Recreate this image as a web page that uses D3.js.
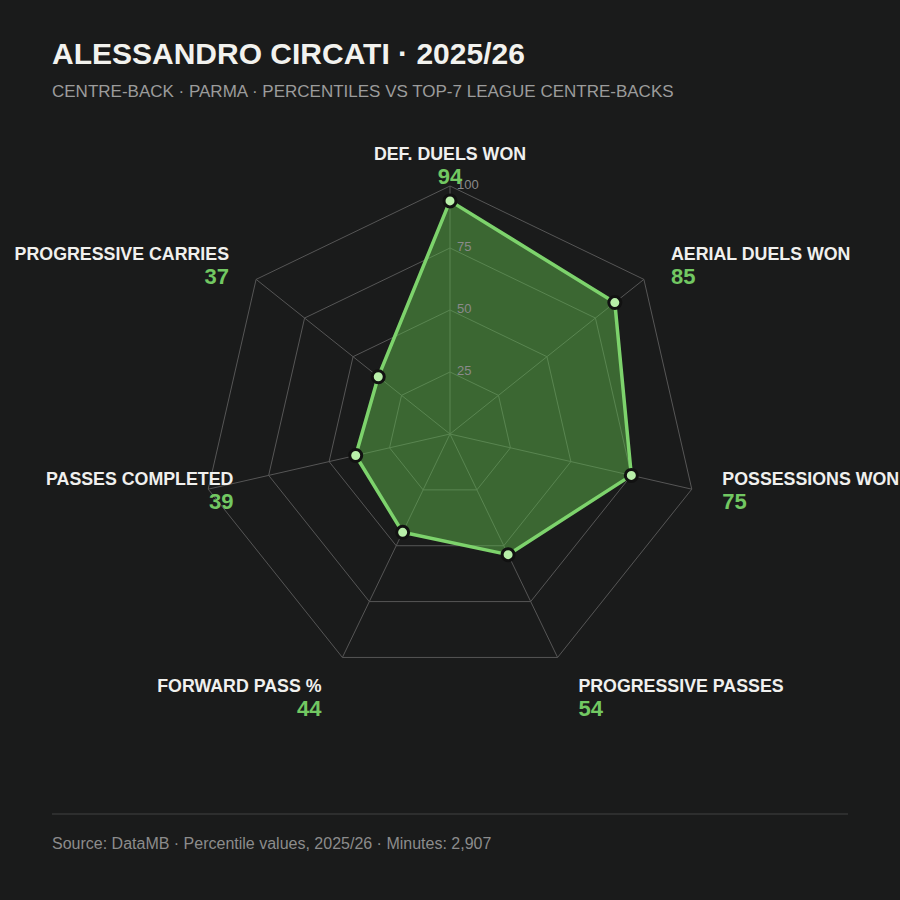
<!DOCTYPE html>
<html>
<head>
<meta charset="utf-8">
<script src="https://cdn.jsdelivr.net/npm/d3@7"></script>
<style>
  html, body { margin: 0; padding: 0; background: #1a1b1b; }
  svg { display: block; font-family: "Liberation Sans", Arial, Helvetica, sans-serif; }
</style>
</head>
<body>
<svg id="chart" width="900" height="900"></svg>
<script>
// ---- data ----
const metrics = ["DEF. DUELS WON", "AERIAL DUELS WON", "POSSESSIONS WON", "PROGRESSIVE PASSES",
                 "FORWARD PASS %", "PASSES COMPLETED", "PROGRESSIVE CARRIES"];
const percentiles = [94, 85, 75, 54, 44, 39, 37];
const ringTicks = [25, 50, 75, 100];
const titleText = "ALESSANDRO CIRCATI · 2025/26";
const subtitleText = "CENTRE-BACK · PARMA · PERCENTILES VS TOP-7 LEAGUE CENTRE-BACKS";
const footerText = "Source: DataMB · Percentile values, 2025/26 · Minutes: 2,907";

// ---- layout ----
const W = 900, H = 900;
const cx = 450, cy = 434, R = 248;
const bg = "#1a1b1b";
const gridColor = "#565656";
const green = "#7dd36c";
const numGreen = "#72c862";

const svg = d3.select("#chart");
svg.append("rect").attr("width", W).attr("height", H).attr("fill", bg);

const n = metrics.length;
const angle = d3.scaleLinear().domain([0, n]).range([0, 2 * Math.PI]);
const rScale = d3.scaleLinear().domain([0, 100]).range([0, R]);
const pt = (i, v) => [cx + rScale(v) * Math.sin(angle(i)), cy - rScale(v) * Math.cos(angle(i))];

// Title
svg.append("text").attr("x", 52).attr("y", 64).attr("fill", "#f2f2ee")
  .attr("font-size", 30).attr("font-weight", "bold").text(titleText);
svg.append("text").attr("x", 52).attr("y", 97).attr("fill", "#9c9c9c")
  .attr("font-size", 17).text(subtitleText);

// Grid
const g = svg.append("g");
const lineGen = d3.line();
ringTicks.forEach(t => {
  const pts = d3.range(n).map(i => pt(i, t));
  g.append("path").attr("d", lineGen(pts) + "Z")
    .attr("fill", "none").attr("stroke", gridColor).attr("stroke-width", 1);
});
d3.range(n).forEach(i => {
  const [x, y] = pt(i, 100);
  g.append("line").attr("x1", cx).attr("y1", cy).attr("x2", x).attr("y2", y)
    .attr("stroke", gridColor).attr("stroke-width", 1);
});

// Data polygon
const dataPts = percentiles.map((v, i) => pt(i, v));
svg.append("path").attr("d", lineGen(dataPts) + "Z")
  .attr("fill", "#5cb34a").attr("fill-opacity", 0.5)
  .attr("stroke", green).attr("stroke-width", 3.5).attr("stroke-linejoin", "round");

// Ring tick labels
ringTicks.forEach(t => {
  svg.append("text").attr("x", cx + 7).attr("y", cy - rScale(t))
    .attr("dominant-baseline", "middle").attr("fill", "#8a8a8a")
    .attr("font-size", 13).text(t);
});

// Points
svg.selectAll("circle.pt").data(percentiles).enter().append("circle")
  .attr("class", "pt")
  .attr("cx", (d, i) => pt(i, d)[0]).attr("cy", (d, i) => pt(i, d)[1])
  .attr("r", 6).attr("fill", "#b8efa9").attr("stroke", "#111").attr("stroke-width", 3);

// Axis labels
const labelR = 266;
metrics.forEach((m, i) => {
  const a = angle(i);
  const s = Math.sin(a), c = Math.cos(a);
  let x = cx + labelR * s;
  let anchor = "middle";
  if (s > 0.1) { anchor = "start"; x += 13; }
  else if (s < -0.1) { anchor = "end"; x -= 13; }
  let y = cy - labelR * c + (c < -0.5 ? 18 : -8);
  const lab = svg.append("text").attr("y", y).attr("fill", "#f0f0ee")
    .attr("font-size", 17.8).attr("font-weight", "bold").attr("text-anchor", anchor).text(m);
  if (anchor === "end") {
    const w = lab.node().getComputedTextLength();
    if (x - w < 0) x = 46 + w;
  }
  lab.attr("x", x);
  svg.append("text").attr("x", x).attr("y", y + 24).attr("fill", numGreen)
    .attr("font-size", 22).attr("font-weight", "bold").attr("text-anchor", anchor)
    .text(percentiles[i]);
});

// Footer
svg.append("line").attr("x1", 52).attr("x2", 848).attr("y1", 814).attr("y2", 814)
  .attr("stroke", "#353636").attr("stroke-width", 1.5);
svg.append("text").attr("x", 52).attr("y", 849).attr("fill", "#8c8c8c")
  .attr("font-size", 16).text(footerText);
</script>
</body>
</html>
